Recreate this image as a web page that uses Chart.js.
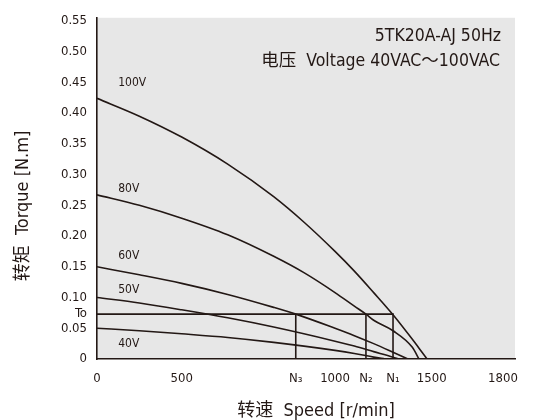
<!DOCTYPE html>
<html>
<head>
<meta charset="utf-8">
<script src="https://cdn.jsdelivr.net/npm/chart.js@4.4.1/dist/chart.umd.min.js"></script>
<style>
html, body { margin: 0; padding: 0; background: #fff; }
</style>
</head>
<body>
<canvas id="tk_chart" width="533" height="420"></canvas>
<script>
// 转速 (r/min) / 转矩 (N.m)
var speed100 = [0, 250, 500, 650, 800, 900, 1000, 1100, 1200, 1300, 1400, 1450, 1476];
var torque100 = [0.424, 0.395, 0.361, 0.317, 0.264, 0.222, 0.175, 0.143, 0.108, 0.072, 0.032, 0.011, 0];
var speed80 = [0, 250, 500, 650, 800, 900, 1000, 1100, 1160, 1200, 1300, 1400, 1434];
var torque80 = [0.267, 0.250, 0.229, 0.202, 0.167, 0.140, 0.108, 0.086, 0.073, 0.063, 0.046, 0.019, 0];
var speed60 = [0, 250, 500, 650, 800, 872, 1000, 1100, 1200, 1300, 1377];
var torque60 = [0.150, 0.137, 0.123, 0.105, 0.084, 0.073, 0.050, 0.038, 0.025, 0.011, 0];
var speed50 = [0, 250, 500, 650, 800, 1000, 1100, 1200, 1300, 1326];
var torque50 = [0.100, 0.091, 0.080, 0.067, 0.052, 0.029, 0.021, 0.012, 0.003, 0];
var speed40 = [0, 250, 500, 650, 800, 1000, 1100, 1200, 1259];
var torque40 = [0.050, 0.046, 0.041, 0.035, 0.027, 0.014, 0.009, 0.003, 0];

var curveNames = ['100V', '80V', '60V', '50V', '40V'];

// rated torque To and the speeds N1..N3 where curves cross it
var T0 = 0.073;
var N1 = 1300, N2 = 1160, N3 = 872;

var xTickValues = [0, 500, N3, 1000, N2, N1, 1500, 1800];
var xTickLabels = ['0', '500', 'N\u2083', '1000', 'N\u2082', 'N\u2081', '1500', '1800'];
var yTickValues = [0, 0.05, T0, 0.10, 0.15, 0.20, 0.25, 0.30, 0.35, 0.40, 0.45, 0.50, 0.55];
var yTickLabels = ['0', '0.05', 'To', '0.10', '0.15', '0.20', '0.25', '0.30', '0.35', '0.40', '0.45', '0.50', '0.55'];

var INK = '#231815';
var NARROW = '"Liberation Sans Narrow", "DejaVu Sans Condensed", "Noto Sans CJK SC", sans-serif';

// the printed speed axis is not evenly spaced, so map it piece by piece
var xKnotVal = [0, 500, 1000, 1500, 1800, 1850];
var xKnotDec = [0, 0.2026, 0.5694, 0.8007, 0.9713, 1];
function interp(v, from, to){
    for (var i = 1; i < from.length; i++){
        if (v <= from[i] || i == from.length - 1){
            var t = (v - from[i-1]) / (from[i] - from[i-1]);
            return to[i-1] + t * (to[i] - to[i-1]);
        }
    }
}
class PiecewiseScale extends Chart.LinearScale {
    getPixelForValue(value){
        if (value === null || isNaN(value)) return NaN;
        return this.getPixelForDecimal(interp(value, xKnotVal, xKnotDec));
    }
    getValueForPixel(pixel){
        return interp(this.getDecimalForPixel(pixel), xKnotDec, xKnotVal);
    }
}
PiecewiseScale.id = 'piecewise';
PiecewiseScale.defaults = Chart.LinearScale.defaults;
Chart.register(PiecewiseScale);

function pts(xs, ys){
    return xs.map(function(x, i){ return {x: x, y: ys[i]}; });
}
function curve(xs, ys){
    return {data: pts(xs, ys), borderColor: INK, borderWidth: 1.6, pointRadius: 0,
            cubicInterpolationMode: 'monotone', fill: false};
}
function straight(d){
    return {data: d, borderColor: INK, borderWidth: 1.6, pointRadius: 0, tension: 0, fill: false};
}

var plotBg = {
    id: 'plotBg',
    beforeDraw: function(chart){
        var a = chart.chartArea, ctx = chart.ctx;
        ctx.save();
        ctx.fillStyle = '#e7e7e7';
        ctx.fillRect(a.left, a.top, a.right - a.left, a.bottom - a.top);
        ctx.restore();
    }
};

// curve names sit just above each curve near the torque axis
var nameSpots = [0.449, 0.277, 0.168, 0.112, 0.024];
var texts = {
    id: 'texts',
    afterDraw: function(chart){
        var ctx = chart.ctx, xs = chart.scales.x, ys = chart.scales.y;
        ctx.save();
        ctx.fillStyle = INK;
        ctx.textBaseline = 'middle';
        ctx.font = '12px ' + NARROW;
        ctx.textAlign = 'left';
        curveNames.forEach(function(n, i){
            ctx.fillText(n, xs.getPixelForValue(125), ys.getPixelForValue(nameSpots[i]));
        });
        ctx.font = '17.5px ' + NARROW;
        ctx.textAlign = 'right';
        ctx.fillText('5TK20A-AJ 50Hz', 501, 36);
        ctx.fillText('电压  Voltage 40VAC\uFF5E100VAC', 500, 61);
        ctx.font = '18px ' + NARROW;
        ctx.textAlign = 'center';
        ctx.fillText('转速  Speed [r/min]', 316, 411);
        ctx.translate(23, 206);
        ctx.rotate(-Math.PI / 2);
        ctx.fillText('转矩  Torque [N.m]', 0, 0);
        ctx.restore();
    }
};

var chart = new Chart(document.getElementById('tk_chart'), {
    type: 'line',
    data: {
        datasets: [
            curve(speed100, torque100),
            curve(speed80, torque80),
            curve(speed60, torque60),
            curve(speed50, torque50),
            curve(speed40, torque40),
            straight([{x: 0, y: T0}, {x: N1, y: T0}, {x: N1, y: 0}]),
            straight([{x: N2, y: 0}, {x: N2, y: T0}]),
            straight([{x: N3, y: 0}, {x: N3, y: T0}])
        ]
    },
    options: {
        responsive: false,
        animation: false,
        events: [],
        layout: {padding: {top: 13, right: 18, bottom: 0, left: 0}},
        plugins: {legend: {display: false}, tooltip: {enabled: false}},
        scales: {
            x: {
                type: 'piecewise',
                min: 0, max: 1850,
                grid: {display: false, drawTicks: false},
                border: {display: true, color: INK, width: 1.6},
                afterBuildTicks: function(s){ s.ticks = xTickValues.map(function(v){ return {value: v}; }); },
                afterFit: function(s){ s.height = 61; },
                ticks: {
                    autoSkip: false, maxRotation: 0, padding: 12, color: INK,
                    font: {family: NARROW, size: 13},
                    callback: function(v, i){ return xTickLabels[i]; }
                }
            },
            y: {
                min: 0, max: 0.555,
                grid: {display: false, drawTicks: false},
                border: {display: true, color: INK, width: 1.6},
                afterBuildTicks: function(s){ s.ticks = yTickValues.map(function(v){ return {value: v}; }); },
                afterFit: function(s){ s.width = 97; },
                ticks: {
                    autoSkip: false, padding: 10, color: INK,
                    font: {family: NARROW, size: 13},
                    callback: function(v, i){ return yTickLabels[i]; }
                }
            }
        }
    },
    plugins: [plotBg, texts]
});
</script>
</body>
</html>
